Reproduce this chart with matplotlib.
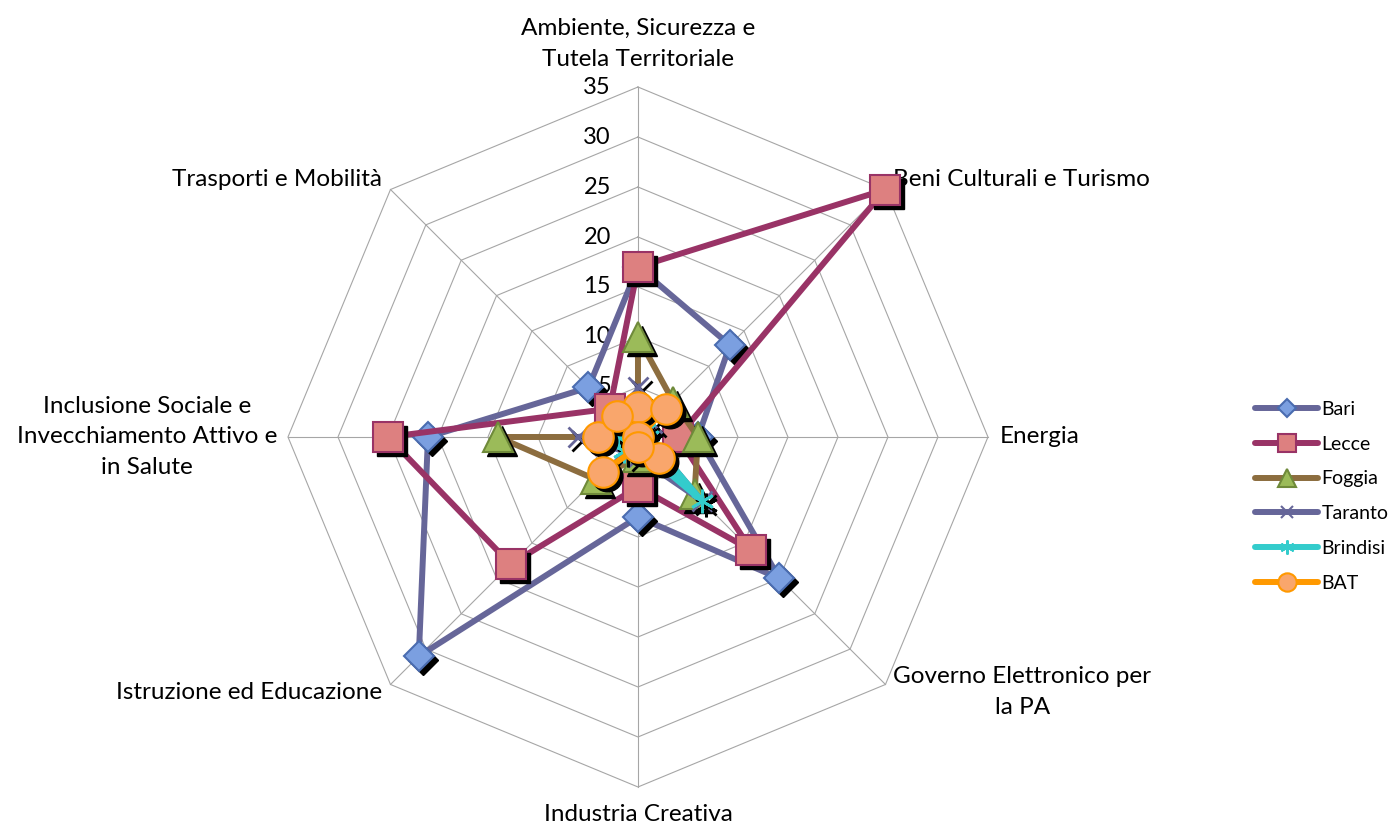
import numpy as np
import matplotlib
matplotlib.use("Agg")
import matplotlib.pyplot as plt
from matplotlib.transforms import offset_copy
from matplotlib.lines import Line2D

plt.rcParams['font.family'] = ['Lato', 'DejaVu Sans']

# categorie (in senso orario dall'alto)
categorie = ["Ambiente, Sicurezza e\nTutela Territoriale", "Beni Culturali e Turismo", "Energia",
             "Governo Elettronico per\nla PA", "Industria Creativa", "Istruzione ed Educazione",
             "Inclusione Sociale e\nInvecchiamento Attivo e\nin Salute", "Trasporti e Mobilità"]

province = ["Bari", "Lecce", "Foggia", "Taranto", "Brindisi", "BAT"]
bari = [17, 13, 6, 20, 8, 31, 21, 7]
lecce = [17, 35, 4, 16, 5, 18, 25, 4]
foggia = [10, 5, 6, 8, 2, 6, 14, 0]
taranto = [5, 2, 1, 9, 2, 2, 6, 1]
brindisi = [2, 1, 1, 9, 1, 2, 2, 1]
bat = [3, 4, 0, 3, 1, 5, 4, 3]
valori = [bari, lecce, foggia, taranto, brindisi, bat]

tick_r = [0, 5, 10, 15, 20, 25, 30, 35]

# stile: colore linea, marker, riempimento, bordo, dimensione
stili = [
    ("#666699", "D", "#7b9fe0", "#4a6cb0", 15.5),
    ("#993366", "s", "#dd8080", "#993366", 21),
    ("#8c6d3f", "^", "#9bbb59", "#6f8a3a", 21),
    ("#666699", "x", "#666699", "#666699", 15),
    ("#33cccc", (6, 2, 0), "#33cccc", "#33cccc", 17),
    ("#ff9900", "o", "#f9a66c", "#ff9900", 22),
]

fig = plt.figure(figsize=(13.98, 8.30), dpi=100)
ax = fig.add_axes([0.2060, 0.0518, 0.5007, 0.8434], projection='polar')
ax.set_theta_offset(np.pi / 2)
ax.set_theta_direction(-1)
ax.set_ylim(0, 35)
ax.grid(False)
ax.spines['polar'].set_visible(False)
ax.set_xticks([])
ax.set_yticks([])

n = len(categorie)
theta = np.arange(n) * 2 * np.pi / n
tc = np.append(theta, theta[0])

# griglia ottagonale
for r in tick_r[1:]:
    ax.plot(tc, [r] * (n + 1), color="#a6a6a6", lw=0.8, zorder=1, clip_on=False)
for t in theta:
    ax.plot([t, t], [0, 35], color="#a6a6a6", lw=0.8, zorder=1, clip_on=False)

# etichette radiali
for r in tick_r:
    ax.annotate(str(r), xy=(0, r), xytext=(-27, 0), textcoords='offset pixels',
                ha='right', va='center', fontsize=17, zorder=2)

# serie
shadow = offset_copy(ax.transData, fig=fig, x=4, y=-4, units='dots')
z = 3
for nome, v, (lc, mk, fc, ec, ms) in zip(province, valori, stili):
    vc = np.append(v, v[0])
    ax.plot(tc, vc, color=lc, lw=4.3, solid_joinstyle='round', zorder=z, clip_on=False)
    if mk in ("x",) or isinstance(mk, tuple):
        ax.plot(theta, v, ls='none', marker=mk, ms=ms, mew=2, color='black',
                transform=shadow, zorder=z + 0.1, clip_on=False)
        ax.plot(theta, v, ls='none', marker=mk, ms=ms, mew=2, color=fc,
                zorder=z + 0.2, clip_on=False)
    else:
        ax.plot(theta, v, ls='none', marker=mk, ms=ms, mfc='black', mec='black',
                transform=shadow, zorder=z + 0.1, clip_on=False)
        ax.plot(theta, v, ls='none', marker=mk, ms=ms, mfc=fc, mec=ec, mew=1.5,
                zorder=z + 0.2, clip_on=False)
    z += 1

# etichette categorie
pos = [((0, 17), 'center', 'bottom', 'center'),
       ((8, 10), 'left', 'center', 'left'),
       ((12, 0), 'left', 'center', 'left'),
       ((8, 18), 'left', 'top', 'center'),
       ((0, -28), 'center', 'center', 'center'),
       ((-8, -8), 'right', 'center', 'right'),
       ((-11, 0), 'right', 'center', 'center'),
       ((-8, 10), 'right', 'center', 'right')]
for t, lab, (off, ha, va, ma) in zip(theta, categorie, pos):
    ax.annotate(lab, xy=(t, 35), xytext=off, textcoords='offset pixels',
                ha=ha, va=va, multialignment=ma, fontsize=17.5, linespacing=1.58,
                annotation_clip=False)

# legenda
handles = []
for nome, (lc, mk, fc, ec, ms) in zip(province, stili):
    handles.append(Line2D([], [], color=lc, lw=4.3, marker=mk, ms=ms * 0.6,
                          mfc=fc, mec=ec if mk not in ("x",) and not isinstance(mk, tuple) else fc,
                          mew=1.5, solid_capstyle='round'))
fig.legend(handles, province, loc='center left', bbox_to_anchor=(0.898, 0.402),
           frameon=False, fontsize=14, handlelength=3.2, handletextpad=0.2,
           labelspacing=0.92, borderaxespad=0, borderpad=0)

fig.savefig("out.png", dpi=100)
